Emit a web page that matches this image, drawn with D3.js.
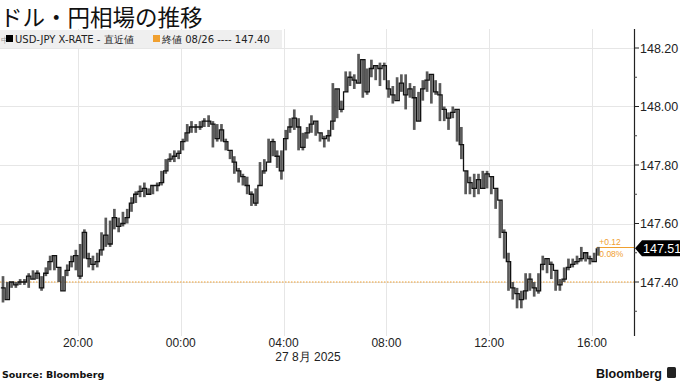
<!DOCTYPE html>
<html>
<head>
<meta charset="utf-8">
<script src="https://cdn.jsdelivr.net/npm/d3@7"></script>
<style>
  body { margin: 0; background: #fff; }
  svg { display: block; font-family: "Liberation Sans", Arial, sans-serif; }
</style>
</head>
<body>
<svg id="chart" width="680" height="382"></svg>
<script>
// USD-JPY, 10-minute bars from 26 Aug 17:00 to 27 Aug 16:10
const startTime = new Date(2025, 7, 26, 17, 0);
const stepMinutes = 10;
const closes = [
  147.38, 147.34, 147.40, 147.39, 147.40, 147.40, 147.42, 147.41, 147.43, 147.38,
  147.43, 147.47, 147.49, 147.45, 147.37, 147.44, 147.47, 147.49, 147.42, 147.57,
  147.48, 147.46, 147.47, 147.51, 147.56, 147.53, 147.62, 147.59, 147.60, 147.62,
  147.67, 147.70, 147.71, 147.72, 147.70, 147.73, 147.73, 147.74, 147.78, 147.82,
  147.83, 147.84, 147.88, 147.91, 147.93, 147.93, 147.93, 147.95, 147.95, 147.94,
  147.89, 147.92, 147.88, 147.85, 147.81, 147.78, 147.76, 147.73, 147.70, 147.67,
  147.73, 147.78, 147.81, 147.88, 147.83, 147.78, 147.89, 147.93, 147.96, 147.93,
  147.86, 147.91, 147.94, 147.95, 147.91, 147.89, 147.90, 147.95, 148.06, 147.99,
  148.05, 148.10, 148.09, 148.08, 148.16, 148.05, 148.13, 148.14, 148.13, 148.14,
  148.06, 148.04, 148.02, 148.08, 148.04, 148.06, 148.03, 147.95, 148.06, 148.09,
  148.11, 148.05, 148.04, 147.99, 147.96, 147.98, 147.99, 147.87, 147.78, 147.74,
  147.72, 147.75, 147.72, 147.77, 147.76, 147.72, 147.68, 147.57, 147.47, 147.38,
  147.36, 147.34, 147.37, 147.41, 147.38, 147.37, 147.46, 147.48, 147.46, 147.44,
  147.39, 147.41, 147.45, 147.46, 147.47, 147.48, 147.50, 147.48, 147.47, 147.515
];
const highs = [
  147.42, 147.40, 147.40, 147.40, 147.41, 147.41, 147.43, 147.44, 147.44, 147.42,
  147.45, 147.49, 147.49, 147.45, 147.42, 147.46, 147.49, 147.51, 147.53, 147.58,
  147.50, 147.49, 147.50, 147.57, 147.62, 147.61, 147.65, 147.62, 147.64, 147.65,
  147.69, 147.71, 147.73, 147.74, 147.72, 147.73, 147.74, 147.78, 147.82, 147.84,
  147.85, 147.85, 147.89, 147.94, 147.95, 147.94, 147.95, 147.96, 147.97, 147.95,
  147.94, 147.94, 147.89, 147.85, 147.83, 147.79, 147.77, 147.76, 147.71, 147.72,
  147.81, 147.82, 147.89, 147.89, 147.85, 147.85, 147.92, 147.96, 147.99, 147.96,
  147.91, 147.93, 147.97, 147.95, 147.91, 147.90, 147.92, 148.08, 148.06, 148.02,
  148.12, 148.12, 148.11, 148.18, 148.16, 148.13, 148.16, 148.14, 148.15, 148.15,
  148.09, 148.07, 148.10, 148.11, 148.11, 148.08, 148.07, 148.05, 148.09, 148.12,
  148.09, 148.09, 148.08, 148.00, 147.98, 148.00, 147.99, 147.93, 147.78, 147.76,
  147.77, 147.77, 147.78, 147.78, 147.76, 147.71, 147.68, 147.58, 147.50, 147.40,
  147.38, 147.37, 147.43, 147.43, 147.40, 147.43, 147.49, 147.48, 147.47, 147.44,
  147.41, 147.45, 147.48, 147.48, 147.49, 147.52, 147.50, 147.49, 147.50, 147.52
];
const lows = [
  147.33, 147.34, 147.38, 147.38, 147.39, 147.39, 147.38, 147.41, 147.41, 147.37,
  147.42, 147.44, 147.44, 147.40, 147.37, 147.42, 147.45, 147.44, 147.41, 147.48,
  147.45, 147.44, 147.45, 147.49, 147.52, 147.52, 147.58, 147.57, 147.59, 147.60,
  147.64, 147.67, 147.69, 147.69, 147.70, 147.70, 147.71, 147.73, 147.77, 147.81,
  147.81, 147.82, 147.85, 147.88, 147.91, 147.91, 147.92, 147.93, 147.93, 147.86,
  147.88, 147.88, 147.85, 147.82, 147.77, 147.74, 147.73, 147.70, 147.66, 147.66,
  147.73, 147.77, 147.81, 147.83, 147.79, 147.75, 147.85, 147.91, 147.92, 147.85,
  147.85, 147.89, 147.91, 147.90, 147.88, 147.86, 147.88, 147.92, 147.96, 147.98,
  148.05, 148.07, 148.06, 148.08, 148.03, 148.04, 148.10, 148.09, 148.07, 148.09,
  148.03, 148.01, 148.02, 148.05, 147.99, 148.03, 147.92, 147.95, 148.02, 148.05,
  148.01, 148.04, 147.95, 147.95, 147.92, 147.96, 147.88, 147.82, 147.70, 147.70,
  147.69, 147.70, 147.72, 147.72, 147.70, 147.65, 147.55, 147.48, 147.37, 147.34,
  147.31, 147.31, 147.34, 147.37, 147.35, 147.36, 147.44, 147.43, 147.41, 147.37,
  147.37, 147.40, 147.44, 147.45, 147.46, 147.47, 147.47, 147.46, 147.47, 147.49
];
const prevClose = 147.40;
const yTicks = [147.40, 147.60, 147.80, 148.00, 148.20];
const yMinorTicks = [147.30, 147.50, 147.70, 147.90, 148.10];
const xTickHours = [
  new Date(2025, 7, 26, 20), new Date(2025, 7, 27, 0), new Date(2025, 7, 27, 4),
  new Date(2025, 7, 27, 8), new Date(2025, 7, 27, 12), new Date(2025, 7, 27, 16)
];

const data = closes.map((v, i) => ({
  t: new Date(startTime.getTime() + i * stepMinutes * 60000),
  t2: new Date(startTime.getTime() + (i + 1) * stepMinutes * 60000),
  v: v,
  hi: highs[i],
  lo: lows[i]
}));
const last = data[data.length - 1];

const svg = d3.select('#chart');
const plotLeft = 0, plotRight = 634, plotTop = 29, plotBottom = 336;
const orange = '#f0a030';

const x = d3.scaleTime()
  .domain([new Date(2025, 7, 26, 16, 58), new Date(2025, 7, 27, 17, 38)])
  .range([plotLeft, plotRight]);
const y = d3.scaleLinear()
  .domain([147.40, 148.20])
  .range([282, 48]);

// title
svg.append('text')
  .attr('x', 0).attr('y', 26)
  .attr('font-family', '"Noto Sans CJK JP", sans-serif')
  .attr('font-size', 22.5).attr('fill', '#111')
  .text('ドル・円相場の推移');

// gridlines
const grid = svg.append('g').attr('stroke', '#e6e6e6').attr('stroke-width', 1);
grid.selectAll('line.h').data(yTicks).join('line')
  .attr('x1', plotLeft).attr('x2', plotRight)
  .attr('y1', d => Math.round(y(d)) + 0.5).attr('y2', d => Math.round(y(d)) + 0.5);
grid.selectAll('line.v').data(xTickHours).join('line')
  .attr('x1', d => Math.round(x(d)) + 0.5).attr('x2', d => Math.round(x(d)) + 0.5)
  .attr('y1', plotTop).attr('y2', plotBottom);

// legend bar
const legend = svg.append('g');
legend.append('rect').attr('x', 0).attr('y', 30).attr('width', 282).attr('height', 18).attr('fill', '#efefef');
legend.append('text').attr('x', 1).attr('y', 43).attr('font-size', 8).attr('fill', '#999').text('中');
legend.append('rect').attr('x', 6).attr('y', 35).attr('width', 7).attr('height', 7).attr('fill', '#000');
legend.append('text').attr('x', 15).attr('y', 43).attr('font-size', 10).attr('fill', '#222')
  .attr('font-family', '"DejaVu Sans", sans-serif')
  .text('USD-JPY X-RATE - 直近値');
legend.append('rect').attr('x', 153).attr('y', 35).attr('width', 7).attr('height', 7).attr('fill', orange);
legend.append('text').attr('x', 162).attr('y', 43).attr('font-size', 10).attr('fill', '#222')
  .attr('font-family', '"DejaVu Sans", sans-serif')
  .text('終値 08/26 ---- 147.40');

// previous close
svg.append('line')
  .attr('x1', plotLeft).attr('x2', plotRight)
  .attr('y1', y(prevClose)).attr('y2', y(prevClose))
  .attr('stroke', orange).attr('stroke-width', 1.2).attr('stroke-dasharray', '1.5,1.5');

// last value guide
svg.append('line')
  .attr('x1', x(last.t)).attr('x2', plotRight)
  .attr('y1', Math.round(y(last.v)) - 0.5).attr('y2', Math.round(y(last.v)) - 0.5)
  .attr('stroke', orange).attr('stroke-width', 1);

// bar ranges
svg.append('g').selectAll('rect').data(data).join('rect')
  .attr('x', d => x(d.t) + 0.8)
  .attr('width', d => Math.max(1, x(d.t2) - x(d.t) - 1.6))
  .attr('y', d => y(Math.max(d.hi, d.v)))
  .attr('height', d => Math.max(1, y(Math.min(d.lo, d.v)) - y(Math.max(d.hi, d.v))))
  .attr('fill', '#5a5a5a');

// close line
const line = d3.line()
  .x(d => x(d.t))
  .y(d => y(d.v))
  .curve(d3.curveStepAfter);
svg.append('path')
  .datum(data)
  .attr('d', line)
  .attr('fill', 'none')
  .attr('stroke', '#111')
  .attr('stroke-width', 1.3);

// change annotation
const chg = Math.round((last.v - prevClose) * 1000) / 1000;
svg.append('text').attr('x', x(last.t) + 3).attr('y', y(last.v) - 3)
  .attr('font-size', 8.5).attr('fill', orange)
  .text((chg >= 0 ? '+' : '') + chg.toFixed(2));
svg.append('text').attr('x', x(last.t) + 3).attr('y', y(last.v) + 9)
  .attr('font-size', 8.5).attr('fill', orange)
  .text((chg / prevClose * 100).toFixed(2) + '%');

// right axis
const yAxis = svg.append('g').attr('transform', `translate(${plotRight},0)`);
yAxis.append('line').attr('x1', 0.5).attr('x2', 0.5).attr('y1', plotTop).attr('y2', plotBottom)
  .attr('stroke', '#222').attr('stroke-width', 1.2);
yAxis.selectAll('line.major').data(yTicks).join('line')
  .attr('x1', 0).attr('x2', 5)
  .attr('y1', d => y(d)).attr('y2', d => y(d))
  .attr('stroke', '#222');
yAxis.selectAll('line.minor').data(yMinorTicks).join('line')
  .attr('x1', 0).attr('x2', 3)
  .attr('y1', d => y(d)).attr('y2', d => y(d))
  .attr('stroke', '#444');
yAxis.selectAll('text.tick').data(yTicks).join('text')
  .attr('x', 6).attr('y', d => y(d) + 4.5)
  .attr('font-size', 12.5).attr('fill', '#222')
  .text(d => d.toFixed(2));

// last value tag
const ly = y(last.v);
yAxis.append('path')
  .attr('d', `M1,${ly} L8,${ly - 8} L46,${ly - 8} L46,${ly + 8} L8,${ly + 8} Z`)
  .attr('fill', '#000');
yAxis.append('text')
  .attr('x', 9).attr('y', ly + 4.5)
  .attr('font-size', 12.5).attr('fill', '#fff')
  .text(last.v.toFixed(2));

// x axis labels
const fmt = d3.timeFormat('%H:%M');
svg.selectAll('text.xt').data(xTickHours).join('text')
  .attr('x', d => x(d)).attr('y', 347)
  .attr('text-anchor', 'middle')
  .attr('font-size', 12).attr('fill', '#222')
  .text(d => fmt(d));
svg.append('text')
  .attr('x', 308).attr('y', 361)
  .attr('text-anchor', 'middle')
  .attr('font-size', 12).attr('fill', '#222')
  .text('27 8月 2025');

// footer
svg.append('text').attr('x', 2).attr('y', 378)
  .attr('font-family', '"DejaVu Sans", sans-serif')
  .attr('font-size', 9.5).attr('font-weight', 'bold').attr('fill', '#111')
  .text('Source: Bloomberg');
svg.append('text').attr('x', 662).attr('y', 378)
  .attr('text-anchor', 'end')
  .attr('font-size', 12.5).attr('font-weight', 'bold').attr('fill', '#111')
  .text('Bloomberg');
svg.append('rect').attr('x', 667).attr('y', 367).attr('width', 9).attr('height', 11).attr('rx', 1.5).attr('fill', '#222');
</script>
</body>
</html>
